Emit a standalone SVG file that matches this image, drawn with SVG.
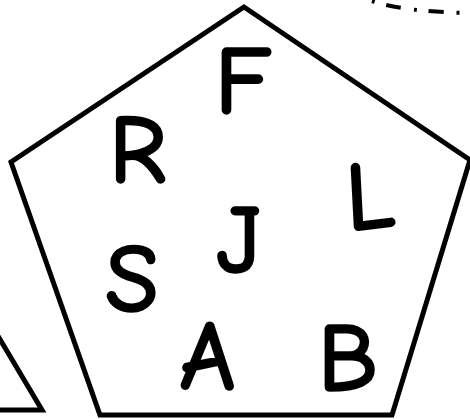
<svg xmlns="http://www.w3.org/2000/svg" width="470" height="419" viewBox="0 0 470 419">
<style>
.shape{fill:none;stroke:#000;stroke-width:5;stroke-linejoin:miter}
.lbl{font-family:"Comic Sans MS","Comic Neue","DejaVu Sans",sans-serif;font-size:95px;fill:#000;stroke:#000;stroke-width:3.5;stroke-linejoin:round;text-anchor:middle}
.dash{fill:none;stroke:#000;stroke-width:4;stroke-dasharray:3 12 15 13}
</style>
<rect width="470" height="419" fill="#fff"/>
<g id="connectors">
<path class="dash" d="M372 1 Q 405 12 470 13"/>
</g>
<g id="triangle">
<path class="shape" d="M-2 336 L42 410 L-2 410"/>
</g>
<g id="pentagon">
<path class="shape" d="M244 7 L470 160 L392 415 L100 415 L11 162 Z"/>
</g>
<g id="letters">
<text id="F" class="lbl" x="243" y="113">F</text>
<text id="R" class="lbl" x="138" y="182">R</text>
<text id="L" class="lbl" x="370" y="228" transform="rotate(-3 370 200)">L</text>
<text id="J" class="lbl" x="239" y="272">J</text>
<text id="S" class="lbl" x="132" y="311">S</text>
<text id="A" class="lbl" x="208" y="388" transform="rotate(1 208 357)">A</text>
<text id="B" class="lbl" x="348" y="390">B</text>
</g>
</svg>
